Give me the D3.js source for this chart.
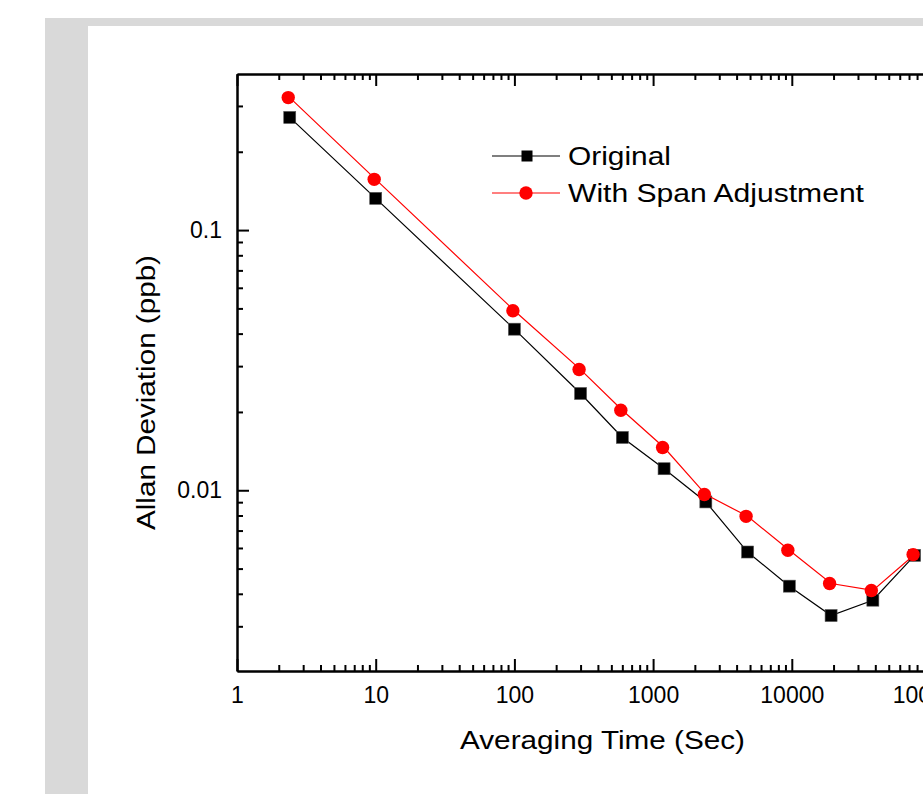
<!DOCTYPE html>
<html lang="en">
<head>
  <meta charset="UTF-8">
  <title>Allan Deviation</title>
  <style>
    html, body { margin: 0; padding: 0; background: #fff; }
    svg { display: block; }
    text { font-family: "Liberation Sans", Arial, sans-serif; fill: #000; }
    .tick text { font-size: 23px; }
  </style>
</head>
<body>

<svg id="chart" width="923" height="794"></svg>

<script src="https://cdn.jsdelivr.net/npm/d3@7"></script>

<script>
// averaging times (s)
var tau = [2.4, 10, 100, 300, 600, 1200, 2400, 4800, 9600, 19200, 38400, 76800];

// Allan deviation (ppb)
var original = [0.271, 0.1324, 0.0416, 0.02355, 0.01596, 0.0121, 0.00902, 0.00579, 0.00428, 0.0033, 0.00378, 0.00562];
var withSpan = [0.323, 0.1567, 0.049, 0.0291, 0.0203, 0.0146, 0.00963, 0.00794, 0.00588, 0.00438, 0.00412, 0.00566];

var xMajor = [1, 10, 100, 1000, 10000, 100000, 1000000];
var yMajor = [0.01, 0.1];
var seriesNames = ["Original", "With Span Adjustment"];

var svg = d3.select("#chart");

// grey frame behind the white panel
svg.append("rect").attr("x", 45).attr("y", 18).attr("width", 923 - 45).attr("height", 794 - 18).attr("fill", "#d9d9d9");
svg.append("rect").attr("x", 88).attr("y", 26).attr("width", 923 - 88).attr("height", 794 - 26).attr("fill", "#fff");

// plot box (note: "top" is reserved on window, so use other names)
var plotLeft = 237, plotTop = 74, plotBottom = 671;
var decade = 138.7;

var x = d3.scaleLog().domain([1, 1e6]).range([plotLeft, plotLeft + 6 * decade]);
var y = d3.scaleLog().domain([0.00202, 0.398]).range([plotBottom, plotTop]);

// minor ticks: 2..9 of each decade inside the domain
function minors(dom) {
  var out = [];
  for (var e = -4; e <= 6; e++) {
    for (var k = 2; k <= 9; k++) {
      var v = k * Math.pow(10, e);
      if (v >= dom[0] && v <= dom[1]) out.push(v);
    }
  }
  return out;
}
var xMinor = minors(x.domain());
var yMinor = minors(y.domain());

function fmt(d) { return d3.format("~g")(d); }
function fmtX(d) { return String(d); }

function styleAxis(g) {
  g.selectAll("path.domain").attr("stroke", "#000").attr("stroke-width", 2);
  g.selectAll(".tick line").attr("stroke", "#000").attr("stroke-width", 2);
  g.selectAll(".tick text").attr("fill", "#000");
}

// bottom
var gb = svg.append("g").attr("transform", "translate(0," + plotBottom + ")");
gb.call(d3.axisBottom(x).tickValues(xMinor).tickSizeInner(-6).tickSizeOuter(0).tickFormat(""));
gb.call(styleAxis);
var gb2 = svg.append("g").attr("transform", "translate(0," + plotBottom + ")");
gb2.call(d3.axisBottom(x).tickValues(xMajor).tickSizeInner(-12).tickSizeOuter(0).tickPadding(16).tickFormat(fmtX));
gb2.call(styleAxis);

// top (mirror, no labels)
var gt = svg.append("g").attr("transform", "translate(0," + plotTop + ")");
gt.call(d3.axisTop(x).tickValues(xMinor).tickSizeInner(-6).tickSizeOuter(0).tickFormat(""));
gt.call(styleAxis);
var gt2 = svg.append("g").attr("transform", "translate(0," + plotTop + ")");
gt2.call(d3.axisTop(x).tickValues(xMajor).tickSizeInner(-12).tickSizeOuter(0).tickFormat(""));
gt2.call(styleAxis);

// left
var gl = svg.append("g").attr("transform", "translate(" + plotLeft + ",0)");
gl.call(d3.axisLeft(y).tickValues(yMinor).tickSizeInner(-6).tickSizeOuter(0).tickFormat(""));
gl.call(styleAxis);
var gl2 = svg.append("g").attr("transform", "translate(" + plotLeft + ",0)");
gl2.call(d3.axisLeft(y).tickValues(yMajor).tickSizeInner(-12).tickSizeOuter(0).tickPadding(15).tickFormat(fmt));
gl2.call(styleAxis);

// axis titles (reference glyphs are a bit wider than Liberation Sans)
svg.append("text")
  .attr("x", 460).attr("y", 749)
  .attr("font-size", 26)
  .attr("textLength", 285).attr("lengthAdjust", "spacingAndGlyphs")
  .text("Averaging Time (Sec)");

svg.append("text")
  .attr("transform", "translate(155,530) rotate(-90)")
  .attr("font-size", 26)
  .attr("textLength", 275).attr("lengthAdjust", "spacingAndGlyphs")
  .text("Allan Deviation (ppb)");

// data
var line = d3.line()
  .x(function (d) { return x(d[0]); })
  .y(function (d) { return y(d[1]); });

var blackPts = tau.map(function (t, i) { return [t, original[i]]; });
var redPts = tau.map(function (t, i) { return [t, withSpan[i]]; });

svg.append("path").datum(blackPts).attr("d", line)
  .attr("fill", "none").attr("stroke", "#000").attr("stroke-width", 1.2);
svg.selectAll("rect.sq").data(blackPts).enter().append("rect")
  .attr("class", "sq")
  .attr("x", function (d) { return x(d[0]) - 6; })
  .attr("y", function (d) { return y(d[1]) - 6; })
  .attr("width", 12).attr("height", 12)
  .attr("fill", "#000").attr("stroke", "#555").attr("stroke-width", 0.6);

svg.append("path").datum(redPts).attr("d", line)
  .attr("fill", "none").attr("stroke", "#ff0000").attr("stroke-width", 1.2);
svg.selectAll("circle.dot").data(redPts).enter().append("circle")
  .attr("class", "dot")
  .attr("cx", function (d) { return x(d[0]) - 1.5; })
  .attr("cy", function (d) { return y(d[1]); })
  .attr("r", 6.7)
  .attr("fill", "#ff0000");

// legend
var lg = svg.append("g");
lg.append("line").attr("x1", 492).attr("x2", 560).attr("y1", 156).attr("y2", 156)
  .attr("stroke", "#000").attr("stroke-width", 1.2);
lg.append("rect").attr("x", 521.5).attr("y", 150.5).attr("width", 11).attr("height", 11).attr("fill", "#000");
lg.append("text").attr("x", 568).attr("y", 165).attr("font-size", 26)
  .attr("textLength", 103).attr("lengthAdjust", "spacingAndGlyphs").text(seriesNames[0]);

lg.append("line").attr("x1", 492).attr("x2", 560).attr("y1", 193).attr("y2", 193)
  .attr("stroke", "#ff0000").attr("stroke-width", 1.2);
lg.append("circle").attr("cx", 526).attr("cy", 193).attr("r", 6.7).attr("fill", "#ff0000");
lg.append("text").attr("x", 568).attr("y", 202).attr("font-size", 26)
  .attr("textLength", 296).attr("lengthAdjust", "spacingAndGlyphs").text(seriesNames[1]);
</script>

</body>
</html>
